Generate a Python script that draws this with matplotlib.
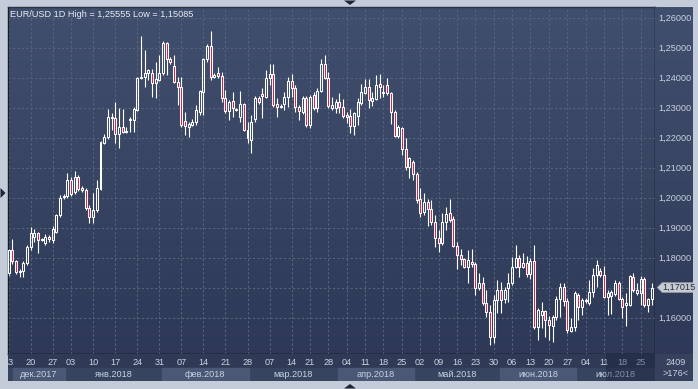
import numpy as np
import matplotlib
matplotlib.use('Agg')
import matplotlib.pyplot as plt
from matplotlib.patches import Rectangle, Polygon
from matplotlib.collections import LineCollection
from matplotlib.colors import LinearSegmentedColormap

plt.rcParams['font.family'] = ['Liberation Sans', 'DejaVu Sans']

# EUR/USD daily bars, bar -1 is 13 Dec 2017, last bar is 30 Jul 2018
first_bar = -1
opens = [
    1.1750, 1.1827, 1.1790, 1.1753, 1.1757, 1.1783, 1.1837, 1.1870, 1.1883, 1.1860,
    1.1850, 1.1870, 1.1860, 1.1887, 1.1943, 1.2003, 1.2007, 1.2060, 1.2020, 1.2070,
    1.2033, 1.2027, 1.1967, 1.1937, 1.1960, 1.2030, 1.2183, 1.2203, 1.2267, 1.2267,
    1.2213, 1.2237, 1.2220, 1.2260, 1.2260, 1.2293, 1.2400, 1.2403, 1.2417, 1.2417,
    1.2383, 1.2393, 1.2417, 1.2517, 1.2463, 1.2440, 1.2387, 1.2370, 1.2257, 1.2237,
    1.2243, 1.2253, 1.2287, 1.2353, 1.2463, 1.2507, 1.2403, 1.2417, 1.2407, 1.2333,
    1.2290, 1.2323, 1.2293, 1.2270, 1.2313, 1.2227, 1.2193, 1.2263, 1.2333, 1.2347,
    1.2337, 1.2400, 1.2413, 1.2313, 1.2305, 1.2313, 1.2337, 1.2390, 1.2367, 1.2303,
    1.2287, 1.2333, 1.2243, 1.2343, 1.2300, 1.2357, 1.2447, 1.2400, 1.2300, 1.2300,
    1.2320, 1.2303, 1.2277, 1.2273, 1.2240, 1.2273, 1.2317, 1.2350, 1.2370, 1.2323,
    1.2330, 1.2380, 1.2350, 1.2377, 1.2350, 1.2287, 1.2207, 1.2233, 1.2163, 1.2103,
    1.2120, 1.2080, 1.1997, 1.1953, 1.1987, 1.1963, 1.1920, 1.1867, 1.1850, 1.1920,
    1.1950, 1.1930, 1.1840, 1.1810, 1.1797, 1.1770, 1.1787, 1.1780, 1.1700, 1.1717,
    1.1650, 1.1620, 1.1537, 1.1660, 1.1693, 1.1663, 1.1700, 1.1717, 1.1770, 1.1800,
    1.1770, 1.1783, 1.1747, 1.1790, 1.1570, 1.1610, 1.1623, 1.1593, 1.1573, 1.1603,
    1.1663, 1.1703, 1.1657, 1.1557, 1.1570, 1.1677, 1.1637, 1.1657, 1.1650, 1.1687,
    1.1743, 1.1757, 1.1743, 1.1670, 1.1673, 1.1680, 1.1717, 1.1663, 1.1643, 1.1643,
    1.1737, 1.1683, 1.1683, 1.1730, 1.1643, 1.1663,
]
highs = [
    1.1830, 1.1863, 1.1793, 1.1763, 1.1790, 1.1843, 1.1903, 1.1897, 1.1887, 1.1867,
    1.1880, 1.1877, 1.1907, 1.1947, 1.2010, 1.2013, 1.2083, 1.2070, 1.2090, 1.2077,
    1.2040, 1.2033, 1.1977, 1.2017, 1.2060, 1.2190, 1.2213, 1.2297, 1.2283, 1.2320,
    1.2300, 1.2297, 1.2237, 1.2270, 1.2303, 1.2403, 1.2540, 1.2493, 1.2430, 1.2430,
    1.2453, 1.2477, 1.2523, 1.2520, 1.2470, 1.2477, 1.2403, 1.2403, 1.2287, 1.2253,
    1.2263, 1.2310, 1.2360, 1.2467, 1.2513, 1.25555, 1.2417, 1.2437, 1.2420, 1.2360,
    1.2327, 1.2353, 1.2300, 1.2357, 1.2317, 1.2253, 1.2277, 1.2340, 1.2340, 1.2367,
    1.2427, 1.2447, 1.2447, 1.2333, 1.2313, 1.2353, 1.2403, 1.2413, 1.2377, 1.2310,
    1.2340, 1.2340, 1.2343, 1.2353, 1.2367, 1.2463, 1.2477, 1.2420, 1.2337, 1.2330,
    1.2350, 1.2330, 1.2287, 1.2297, 1.2287, 1.2333, 1.2380, 1.2397, 1.2397, 1.2353,
    1.2410, 1.2413, 1.2377, 1.2400, 1.2353, 1.2293, 1.2243, 1.2237, 1.2200, 1.2137,
    1.2127, 1.2087, 1.2033, 1.2017, 1.1997, 1.1993, 1.1943, 1.1893, 1.1950, 1.1970,
    1.1997, 1.1940, 1.1853, 1.1830, 1.1800, 1.1827, 1.1830, 1.1787, 1.1750, 1.1737,
    1.1693, 1.1643, 1.1677, 1.1727, 1.1720, 1.1703, 1.1750, 1.1803, 1.1843, 1.1810,
    1.1817, 1.1807, 1.1800, 1.1843, 1.1633, 1.1653, 1.1627, 1.1607, 1.1610, 1.1673,
    1.1717, 1.1717, 1.1667, 1.1600, 1.1690, 1.1683, 1.1667, 1.1667, 1.1727, 1.1767,
    1.1793, 1.1767, 1.1773, 1.1693, 1.1693, 1.1727, 1.1723, 1.1670, 1.1683, 1.1743,
    1.1750, 1.1717, 1.1740, 1.1737, 1.1667, 1.1717,
]
lows = [
    1.1740, 1.1780, 1.1747, 1.1737, 1.1737, 1.1777, 1.1827, 1.1853, 1.1817, 1.1857,
    1.1843, 1.1853, 1.1850, 1.1883, 1.1937, 1.1997, 1.2000, 1.2007, 1.2013, 1.2023,
    1.2020, 1.1960, 1.1917, 1.1917, 1.1953, 1.2027, 1.2180, 1.2197, 1.2227, 1.2183,
    1.2167, 1.2217, 1.2217, 1.2220, 1.2220, 1.2290, 1.2397, 1.2370, 1.2393, 1.2337,
    1.2333, 1.2390, 1.2410, 1.2410, 1.2447, 1.2383, 1.2310, 1.2237, 1.2210, 1.2203,
    1.2240, 1.2243, 1.2277, 1.2277, 1.2453, 1.2393, 1.2400, 1.2400, 1.2320, 1.2283,
    1.2260, 1.2270, 1.2290, 1.2253, 1.2223, 1.2183, 1.2150, 1.2253, 1.2313, 1.2267,
    1.2333, 1.2377, 1.2303, 1.2270, 1.2300, 1.2293, 1.2303, 1.2337, 1.2287, 1.2260,
    1.2280, 1.2237, 1.2233, 1.2293, 1.2287, 1.2353, 1.2397, 1.2300, 1.2293, 1.2283,
    1.2283, 1.2267, 1.2250, 1.2217, 1.2210, 1.2243, 1.2310, 1.2347, 1.2300, 1.2307,
    1.2327, 1.2333, 1.2337, 1.2343, 1.2247, 1.2203, 1.2200, 1.2143, 1.2093, 1.2067,
    1.2060, 1.1983, 1.1937, 1.1943, 1.1907, 1.1910, 1.1837, 1.1820, 1.1843, 1.1893,
    1.1920, 1.1837, 1.1763, 1.1777, 1.1767, 1.1717, 1.1770, 1.1677, 1.1693, 1.1643,
    1.1603, 1.15085, 1.1517, 1.1617, 1.1617, 1.1650, 1.1653, 1.1710, 1.1767, 1.1737,
    1.1767, 1.1737, 1.1730, 1.1563, 1.1527, 1.1567, 1.1537, 1.1527, 1.1520, 1.1593,
    1.1603, 1.1640, 1.1550, 1.1553, 1.1557, 1.1593, 1.1610, 1.1650, 1.1643, 1.1670,
    1.1703, 1.1737, 1.1667, 1.1610, 1.1613, 1.1673, 1.1660, 1.1600, 1.1575, 1.1640,
    1.1687, 1.1677, 1.1643, 1.1637, 1.1620, 1.1643,
]
closes = [
    1.1827, 1.1790, 1.1753, 1.1757, 1.1783, 1.1837, 1.1883, 1.1883, 1.1860, 1.1863,
    1.1870, 1.1863, 1.1897, 1.1943, 1.2000, 1.2007, 1.2060, 1.2013, 1.2070, 1.2030,
    1.2027, 1.1967, 1.1937, 1.1960, 1.2033, 1.2187, 1.2203, 1.2270, 1.2270, 1.2213,
    1.2237, 1.2220, 1.2223, 1.2263, 1.2297, 1.2400, 1.2403, 1.2417, 1.2427, 1.2383,
    1.2397, 1.2417, 1.2517, 1.2463, 1.2453, 1.2387, 1.2370, 1.2243, 1.2240, 1.2247,
    1.2253, 1.2293, 1.2357, 1.2463, 1.2507, 1.2403, 1.2410, 1.2407, 1.2333, 1.2290,
    1.2320, 1.2300, 1.2297, 1.2313, 1.2227, 1.2200, 1.2253, 1.2333, 1.2320, 1.2340,
    1.2400, 1.2413, 1.2310, 1.2303, 1.2307, 1.2337, 1.2390, 1.2367, 1.2303, 1.2290,
    1.2333, 1.2243, 1.2337, 1.2300, 1.2357, 1.2447, 1.2400, 1.2307, 1.2310, 1.2320,
    1.2303, 1.2273, 1.2270, 1.2240, 1.2283, 1.2320, 1.2353, 1.2370, 1.2327, 1.2333,
    1.2377, 1.2370, 1.2353, 1.2350, 1.2287, 1.2207, 1.2237, 1.2163, 1.2103, 1.2133,
    1.2080, 1.1993, 1.1950, 1.1987, 1.1963, 1.1920, 1.1867, 1.1850, 1.1920, 1.1947,
    1.1927, 1.1840, 1.1810, 1.1797, 1.1770, 1.1793, 1.1780, 1.1700, 1.1717, 1.1650,
    1.1620, 1.1537, 1.1660, 1.1693, 1.1660, 1.1693, 1.1717, 1.1770, 1.1800, 1.1770,
    1.1783, 1.1747, 1.1790, 1.1570, 1.1627, 1.1623, 1.1593, 1.1577, 1.1603, 1.1663,
    1.1703, 1.1657, 1.1560, 1.1570, 1.1683, 1.1637, 1.1660, 1.1660, 1.1687, 1.1743,
    1.1777, 1.1743, 1.1670, 1.1683, 1.1687, 1.1717, 1.1663, 1.1637, 1.1650, 1.1740,
    1.1693, 1.1693, 1.1730, 1.1643, 1.1663, 1.17015,
]

price_ticks = [1.16, 1.17, 1.18, 1.19, 1.20, 1.21, 1.22, 1.23, 1.24, 1.25, 1.26]
day_ticks = [-1, 5, 11, 16, 22, 28, 34, 40, 46, 52, 58, 64, 70, 76, 81, 86, 91,
             96, 101, 106, 111, 116, 121, 126, 131, 136, 141, 146, 151, 156, 161, 166, 171]
day_labels = ['13', '20', '27', '03', '10', '17', '24', '31', '07', '14', '21', '28',
              '07', '14', '21', '28', '04', '11', '18', '25', '02', '09', '16', '23',
              '30', '06', '13', '20', '27', '04', '11', '18', '25']
month_labels = ['дек.2017', 'янв.2018', 'фев.2018', 'мар.2018',
                'апр.2018', 'май.2018', 'июн.2018', 'июл.2018']
month_first = [-1, 15, 41, 65, 89, 110, 133, 154]
last_price = 1.17015
title = 'EUR/USD 1D High = 1,25555 Low = 1,15085'
corner_top = '2409'
corner_bottom = '>176<'

W, H = 698, 389
FRAME = '#c3ccd8'
BG_TOP, BG_BOT = '#414f6e', '#2d3956'
GRID = '#56637e'
RED = '#e2163f'
TXT = '#c9d2e0'
FS = 6.6
TAG_HALF = 0.0016


def px_box(x0, y0, x1, y1):
    return [x0 / W, 1 - y1 / H, (x1 - x0) / W, (y1 - y0) / H]


def px_pts(pts):
    return [(x / W, 1 - y / H) for x, y in pts]


def fmt(v):
    return f'{v:.5f}'.replace('.', ',')


fig = plt.figure(figsize=(W / 100, H / 100), dpi=100)
fig.patch.set_facecolor(FRAME)

bars = np.arange(first_bar, first_bar + len(opens))
xlim = (-1.17, 174.88)
ylim = (1.148, 1.26367)

grad = np.linspace(0, 1, 256).reshape(-1, 1)
bg_cmap = LinearSegmentedColormap.from_list('bg', [BG_TOP, BG_BOT])

# main chart
ax = fig.add_axes(px_box(8, 7, 655, 354))
ax.imshow(grad, cmap=bg_cmap, extent=[xlim[0], xlim[1], ylim[0], ylim[1]],
          aspect='auto', origin='upper', zorder=0)
ax.set_xlim(xlim)
ax.set_ylim(ylim)
ax.set_xticks(day_ticks)
ax.set_yticks(price_ticks)
ax.set_axisbelow(True)
ax.grid(True, color=GRID, linestyle=(0, (2, 2)), linewidth=0.8)
ax.tick_params(length=0, labelbottom=False, labelleft=False)
ax.spines['right'].set_color('black')
ax.spines['bottom'].set_color('black')
ax.spines['left'].set_color('#161c2a')
ax.spines['top'].set_color('#2a3245')
for s in ax.spines.values():
    s.set_linewidth(1.0)

wicks = []
for i, o, h, l, c in zip(bars, opens, highs, lows, closes):
    top, bot = max(o, c), min(o, c)
    wicks.append([(i, top), (i, h)])
    wicks.append([(i, l), (i, bot)])
    face = RED if c < o else 'none'
    ax.add_patch(Rectangle((i - 0.27, bot), 0.54, max(top - bot, 0.00012),
                           facecolor=face, edgecolor='white', linewidth=0.75, zorder=3))
ax.add_collection(LineCollection(wicks, colors='white', linewidths=0.8, zorder=2))

fig.text(10 / W, 1 - 14.5 / H, title, color='#e8ecf3', fontsize=FS, va='center', ha='left')

# price scale
axp = fig.add_axes(px_box(655, 7, 693, 354))
axp.imshow(grad, cmap=bg_cmap, extent=[0, 38, ylim[0], ylim[1]],
           aspect='auto', origin='upper', zorder=0)
axp.set_xlim(0, 38)
axp.set_ylim(ylim)
axp.axis('off')
for v in price_ticks:
    # the last-price tag hides the scale label it sits on
    if abs(v - last_price) < 2 * TAG_HALF:
        continue
    axp.text(3.6, v, fmt(v), color=TXT, fontsize=FS, va='center', ha='left')
tag = Polygon([(2.3, last_price), (7.2, last_price + TAG_HALF), (38, last_price + TAG_HALF),
               (38, last_price - TAG_HALF), (7.2, last_price - TAG_HALF)],
              closed=True, facecolor='#c9cdd4', edgecolor='#9aa3b0', linewidth=0.6, zorder=4)
axp.add_patch(tag)
axp.text(7.6, last_price, fmt(last_price), color='#232b3a',
         fontsize=FS, va='center', ha='left', zorder=5)

# date scale
axd = fig.add_axes(px_box(8, 354, 655, 381))
axd.set_xlim(xlim)
axd.set_ylim(27, 0)
axd.axis('off')
axd.add_patch(Rectangle((xlim[0], 0), xlim[1] - xlim[0], 14, color='#2e3a56', zorder=0))
axd.add_patch(Rectangle((xlim[0], 14), xlim[1] - xlim[0], 13, color='#37445f', zorder=0))
month_end = month_first[1:] + [bars[-1] + 1]
for k, (name, a, b) in enumerate(zip(month_labels, month_first, month_end)):
    lo = max(a - 0.5, xlim[0] + 1.1)
    hi = min(b - 0.5, xlim[1])
    if k % 2 == 0:
        axd.add_patch(Rectangle((lo + 0.2, 14), hi - lo - 0.4, 13, color='#4a5775', zorder=1))
    axd.text((lo + hi) / 2, 20.3, name, ha='center', va='center', fontsize=FS,
             color=TXT, clip_on=True, zorder=2)
for t, lab in zip(day_ticks, day_labels):
    axd.text(t, 8.3, lab, ha='center', va='center', fontsize=FS, color=TXT,
             clip_on=True, zorder=2)
axd.add_patch(Rectangle((161.55, 0), xlim[1] - 161.55, 27, facecolor='#18203a',
                        alpha=0.4, zorder=3))

# corner box
axb = fig.add_axes(px_box(655, 354, 693, 381))
axb.set_facecolor('#35415d')
axb.set_xticks([])
axb.set_yticks([])
for s in axb.spines.values():
    s.set_visible(False)
axb.text(0.55, 0.70, corner_top, ha='center', va='center', fontsize=FS, color=TXT,
         transform=axb.transAxes)
axb.text(0.55, 0.26, corner_bottom, ha='center', va='center', fontsize=FS, color=TXT,
         transform=axb.transAxes)

# little frame arrows
for pts in ([(344, 0.5), (356, 0.5), (350, 5)],
            [(344, 388.5), (356, 388.5), (350, 384)],
            [(0.5, 188), (0.5, 198), (5.5, 193)]):
    fig.add_artist(Polygon(px_pts(pts), closed=True, facecolor='#1d2536',
                           edgecolor='none', transform=fig.transFigure))

fig.savefig('out.png', dpi=100, facecolor=fig.get_facecolor())
